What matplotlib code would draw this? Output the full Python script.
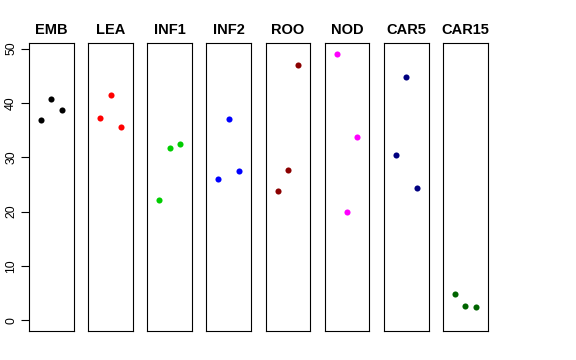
import numpy as np
import matplotlib
matplotlib.use('Agg')
import matplotlib.pyplot as plt

plt.rcParams['font.family'] = ['Liberation Sans', 'DejaVu Sans']

# 組織ごとの値 (各3反復)
tissues = ['EMB', 'LEA', 'INF1', 'INF2', 'ROO', 'NOD', 'CAR5', 'CAR15']
colors = ['#000000', '#FF0000', '#00CD00', '#0000FF', '#8B0000', '#FF00FF', '#000080', '#006400']
emb = [36.8, 40.8, 38.7]
lea = [37.3, 41.5, 35.5]
inf1 = [22.2, 31.7, 32.5]
inf2 = [26.0, 37.0, 27.5]
roo = [23.8, 27.6, 46.9]
nod = [49.0, 20.0, 33.8]
car5 = [30.4, 44.7, 24.4]
car15 = [4.8, 2.7, 2.5]
values = [emb, lea, inf1, inf2, roo, nod, car5, car15]
yticks = [0, 10, 20, 30, 40, 50]

W, H = 576, 360
fig = plt.figure(figsize=(W / 100, H / 100), dpi=100)

ymax = max(max(v) for v in values)
ylim = (-0.04 * ymax, ymax * 1.04)

left0 = 29
step = 59.15
pw = 44.7
bottom = (H - 331) / H
height = (331 - 43.3) / H

for i, (name, col, vals) in enumerate(zip(tissues, colors, values)):
    ax = fig.add_axes([(left0 + i * step) / W, bottom, pw / W, height])
    x = np.arange(1, len(vals) + 1)
    ax.plot(x, vals, 'o', color=col, markersize=4.4, markeredgewidth=0)
    ax.set_xlim(-0.16, 4.16)
    ax.set_ylim(*ylim)
    ax.set_xticks([])
    for sp in ax.spines.values():
        sp.set_linewidth(0.8)
        sp.set_color('black')
    ax.set_title(name, fontsize=10.5, fontweight='bold', pad=7)
    if i == 0:
        ax.set_yticks(yticks)
        ax.set_yticklabels([str(t) for t in yticks], rotation=90, va='center', fontsize=8.8)
        ax.tick_params(axis='y', length=5.5, width=0.8, pad=3)
    else:
        ax.set_yticks([])

fig.savefig('out.png', dpi=100)
